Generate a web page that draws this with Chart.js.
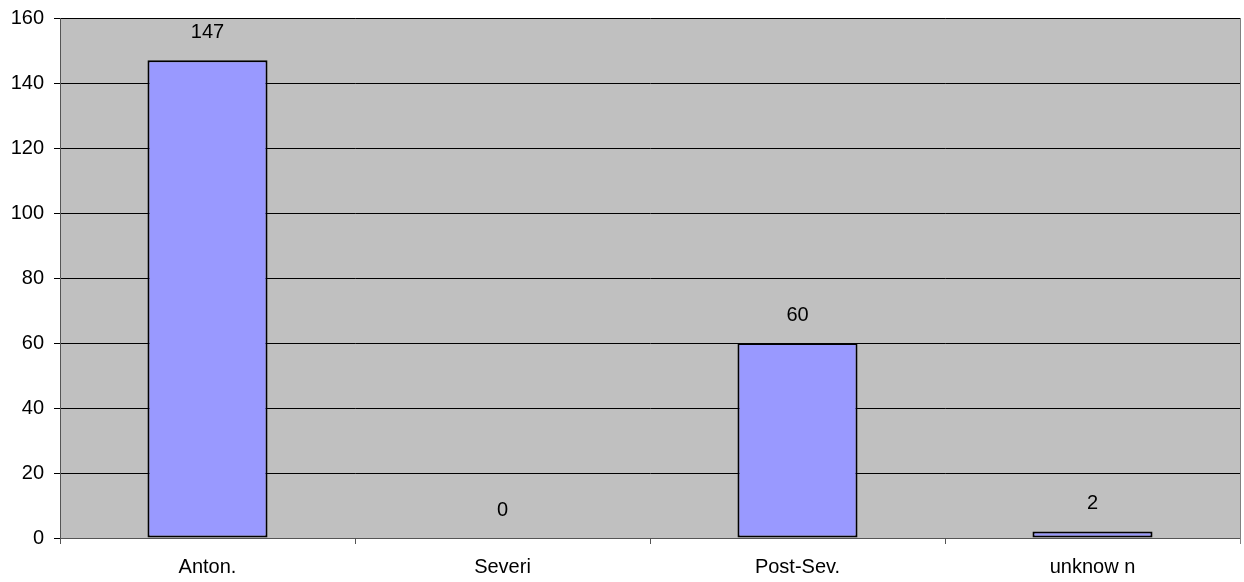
<!DOCTYPE html>
<html>
<head>
<meta charset="utf-8">
<style>
  html, body { margin: 0; padding: 0; background: #ffffff; }
  #wrap { width: 1244px; height: 582px; }
</style>
<script src="https://cdn.jsdelivr.net/npm/chart.js@4/dist/chart.umd.min.js"></script>
</head>
<body>
<div id="wrap"><canvas id="c" width="1244" height="582"></canvas></div>
<script>
// Counts per period
const categories = ['Anton.', 'Severi', 'Post-Sev.', 'unknow n'];
const counts = [147, 0, 60, 2];
const yTicks = [0, 20, 40, 60, 80, 100, 120, 140, 160];

const FONT = '"Liberation Sans", Arial, sans-serif';
const FONT_SIZE = 20;

// Grey plot area, right frame line and value labels above each bar
const plotDecor = {
  id: 'plotDecor',
  beforeDraw(chart) {
    const { ctx, chartArea: a } = chart;
    ctx.save();
    ctx.fillStyle = '#c0c0c0';
    ctx.fillRect(a.left, a.top, a.right - a.left, a.bottom - a.top);
    ctx.restore();
  },
  afterDatasetsDraw(chart) {
    const { ctx, chartArea: a } = chart;
    ctx.save();
    ctx.strokeStyle = '#808080';
    ctx.lineWidth = 1;
    ctx.beginPath();
    ctx.moveTo(a.right + 0.5, a.top);
    ctx.lineTo(a.right + 0.5, a.bottom + 6);
    ctx.stroke();

    const meta = chart.getDatasetMeta(0);
    ctx.fillStyle = '#000';
    ctx.font = FONT_SIZE + 'px ' + FONT;
    ctx.textAlign = 'center';
    ctx.textBaseline = 'middle';
    meta.data.forEach((bar, i) => {
      ctx.fillText(String(counts[i]), bar.x, bar.y - 28);
    });
    ctx.restore();
  }
};

new Chart(document.getElementById('c'), {
  type: 'bar',
  data: {
    labels: categories,
    datasets: [{
      data: counts,
      backgroundColor: '#9999ff',
      borderColor: '#000000',
      borderWidth: 2,
      borderSkipped: false,
      categoryPercentage: 1,
      barPercentage: 0.407
    }]
  },
  options: {
    responsive: false,
    animation: false,
    layout: { padding: { left: 0, right: 4, top: 18, bottom: 0 } },
    plugins: { legend: { display: false }, tooltip: { enabled: false } },
    scales: {
      x: {
        offset: true,
        grid: {
          offset: true,
          drawOnChartArea: false,
          drawTicks: true,
          tickLength: 6,
          color: '#555555'
        },
        border: { color: '#555555', width: 1 },
        ticks: {
          color: '#000',
          font: { family: FONT, size: FONT_SIZE },
          padding: 11,
          maxRotation: 0
        },
        afterFit(scale) { scale.height = 44; }
      },
      y: {
        min: 0,
        max: 160,
        afterBuildTicks(scale) { scale.ticks = yTicks.map(v => ({ value: v })); },
        grid: {
          color: '#000000',
          lineWidth: 1,
          tickLength: 6
        },
        border: { color: '#555555', width: 1 },
        ticks: {
          color: '#000',
          font: { family: FONT, size: FONT_SIZE },
          padding: 10
        },
        afterFit(scale) {
          scale.width = 60;
          scale.paddingTop = 0;
          scale.paddingBottom = 0;
        }
      }
    }
  },
  plugins: [plotDecor]
});
</script>
</body>
</html>
